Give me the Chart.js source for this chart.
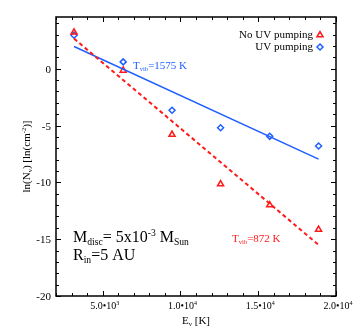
<!DOCTYPE html>
<html>
<head>
<meta charset="utf-8">
<script src="https://cdn.jsdelivr.net/npm/chart.js@4"></script>
<style>
  html, body { margin: 0; padding: 0; background: #fff; }
  #wrap { width: 354px; height: 334px; }
</style>
</head>
<body>
<div id="wrap"><canvas id="chart" width="354" height="334"></canvas></div>
<script>
// data
const energyLevels = [3160, 6320, 9460, 12580, 15740, 18880];
const noUvValues = [3.2, -0.15, -5.8, -10.15, -12.0, -14.15];
const uvValues = [2.95, 0.6, -3.65, -5.2, -5.95, -6.8];
const uvFitX = [3160, 18880];
const uvFitY = [1.95, -7.95];
const noUvFitX = [3160, 18880];
const noUvFitY = [2.65, -15.5];
const xMajorTicks = [5000, 10000, 15000, 20000];
const xTickLabels = ['5.0•10', '1.0•10', '1.5•10', '2.0•10'];
const xTickExps = ['3', '4', '4', '4'];
const yMajorTicks = [0, -5, -10, -15, -20];

const RED = '#ff1a1a';
const BLUE = '#1f5fff';
const SERIF = '"Liberation Serif", "DejaVu Serif", serif';

function pts(xs, ys) {
  return xs.map((x, i) => ({ x: x, y: ys[i] }));
}

// draws text made of parts, some of them sub- or superscript
function richText(ctx, parts, x, y, size, align) {
  const widths = parts.map(p => {
    ctx.font = (p.s ? size * 0.6 : size) + 'px ' + SERIF;
    return ctx.measureText(p.t).width;
  });
  const total = widths.reduce((a, b) => a + b, 0);
  let cx = align === 'right' ? x - total : align === 'center' ? x - total / 2 : x;
  ctx.textAlign = 'left';
  ctx.textBaseline = 'alphabetic';
  parts.forEach((p, i) => {
    ctx.font = (p.s ? size * 0.6 : size) + 'px ' + SERIF;
    let dy = 0;
    if (p.s === 'sub') dy = size * 0.18;
    if (p.s === 'sup') dy = -size * 0.4;
    ctx.fillText(p.t, cx, y + dy);
    cx += widths[i];
  });
}

const framePlugin = {
  id: 'frame',
  afterDraw(chart) {
    const ctx = chart.ctx;
    const a = chart.chartArea;
    const xs = chart.scales.x;
    const ys = chart.scales.y;
    ctx.save();
    ctx.strokeStyle = '#000';
    ctx.lineWidth = 1.5;
    ctx.strokeRect(a.left, a.top, a.right - a.left, a.bottom - a.top);

    // inward ticks on all sides
    ctx.lineWidth = 1;
    ctx.beginPath();
    for (let v = 2000; v <= 20000; v += 1000) {
      const px = Math.round(xs.getPixelForValue(v)) + 0.5;
      const len = v % 5000 === 0 ? 5 : 3;
      ctx.moveTo(px, a.bottom); ctx.lineTo(px, a.bottom - len);
      ctx.moveTo(px, a.top); ctx.lineTo(px, a.top + len);
    }
    for (let v = -20; v <= 4; v += 1) {
      const py = Math.round(ys.getPixelForValue(v)) + 0.5;
      const len = v % 5 === 0 ? 5 : 3;
      ctx.moveTo(a.left, py); ctx.lineTo(a.left + len, py);
      ctx.moveTo(a.right, py); ctx.lineTo(a.right - len, py);
    }
    ctx.stroke();

    // tick labels
    ctx.fillStyle = '#000';
    yMajorTicks.forEach(v => {
      richText(ctx, [{ t: String(v) }], a.left - 5, ys.getPixelForValue(v) + 4, 11, 'right');
    });
    xMajorTicks.forEach((v, i) => {
      richText(ctx, [{ t: xTickLabels[i] }, { t: xTickExps[i], s: 'sup' }],
        xs.getPixelForValue(v) + 2, a.bottom + 13, 10, 'center');
    });

    // axis titles
    richText(ctx, [{ t: 'E' }, { t: 'v', s: 'sub' }, { t: ' [K]' }],
      (a.left + a.right) / 2, a.bottom + 28, 11, 'center');
    ctx.save();
    ctx.translate(30, (a.top + a.bottom) / 2);
    ctx.rotate(-Math.PI / 2);
    richText(ctx, [{ t: 'ln(N' }, { t: 'v', s: 'sub' }, { t: ') [ln(cm' }, { t: '-2', s: 'sup' }, { t: ')]' }],
      0, 0, 11, 'center');
    ctx.restore();

    // legend
    const lx = a.right - 23;
    richText(ctx, [{ t: 'No UV pumping' }], lx, a.top + 21, 11, 'right');
    richText(ctx, [{ t: 'UV pumping' }], lx, a.top + 33, 11, 'right');
    ctx.lineWidth = 1.5;
    ctx.fillStyle = '#fff';
    ctx.strokeStyle = RED;
    Chart.helpers.drawPoint(ctx, { pointStyle: 'triangle', radius: 3.5, rotation: 0, borderWidth: 1.5 }, lx + 7, a.top + 18);
    ctx.strokeStyle = BLUE;
    Chart.helpers.drawPoint(ctx, { pointStyle: 'rectRot', radius: 3, rotation: 0, borderWidth: 1.5 }, lx + 7, a.top + 30);

    // annotations
    ctx.fillStyle = BLUE;
    richText(ctx, [{ t: 'T' }, { t: 'vib', s: 'sub' }, { t: '=1575 K' }], 133, 69, 11, 'left');
    ctx.fillStyle = RED;
    richText(ctx, [{ t: 'T' }, { t: 'vib', s: 'sub' }, { t: '=872 K' }], 232, 242, 11, 'left');
    ctx.fillStyle = '#000';
    richText(ctx, [{ t: 'M' }, { t: 'disc', s: 'sub' }, { t: '= 5x10' }, { t: '-3', s: 'sup' }, { t: ' M' }, { t: 'Sun', s: 'sub' }],
      73, 242, 16, 'left');
    richText(ctx, [{ t: 'R' }, { t: 'in', s: 'sub' }, { t: '=5 AU' }], 73, 260, 16, 'left');
    ctx.restore();
  }
};

new Chart(document.getElementById('chart'), {
  type: 'scatter',
  data: {
    datasets: [
      {
        label: 'No UV fit',
        data: pts(noUvFitX, noUvFitY),
        showLine: true,
        borderColor: RED,
        borderWidth: 2,
        borderDash: [4, 3],
        pointRadius: 0
      },
      {
        label: 'UV fit',
        data: pts(uvFitX, uvFitY),
        showLine: true,
        borderColor: BLUE,
        borderWidth: 1.5,
        pointRadius: 0
      },
      {
        label: 'No UV pumping',
        data: pts(energyLevels, noUvValues),
        pointStyle: 'triangle',
        pointRadius: 3.5,
        pointBorderWidth: 1.5,
        borderColor: RED,
        backgroundColor: 'rgba(0,0,0,0)'
      },
      {
        label: 'UV pumping',
        data: pts(energyLevels, uvValues),
        pointStyle: 'rectRot',
        pointRadius: 3,
        pointBorderWidth: 1.5,
        borderColor: BLUE,
        backgroundColor: 'rgba(0,0,0,0)'
      }
    ]
  },
  options: {
    responsive: false,
    animation: false,
    layout: { padding: { left: 56, top: 17, right: 18, bottom: 38 } },
    plugins: { legend: { display: false }, tooltip: { enabled: false } },
    scales: {
      x: { type: 'linear', min: 2000, max: 20000, display: false },
      y: { type: 'linear', min: -20, max: 4.55, display: false }
    }
  },
  plugins: [framePlugin]
});
</script>
</body>
</html>
